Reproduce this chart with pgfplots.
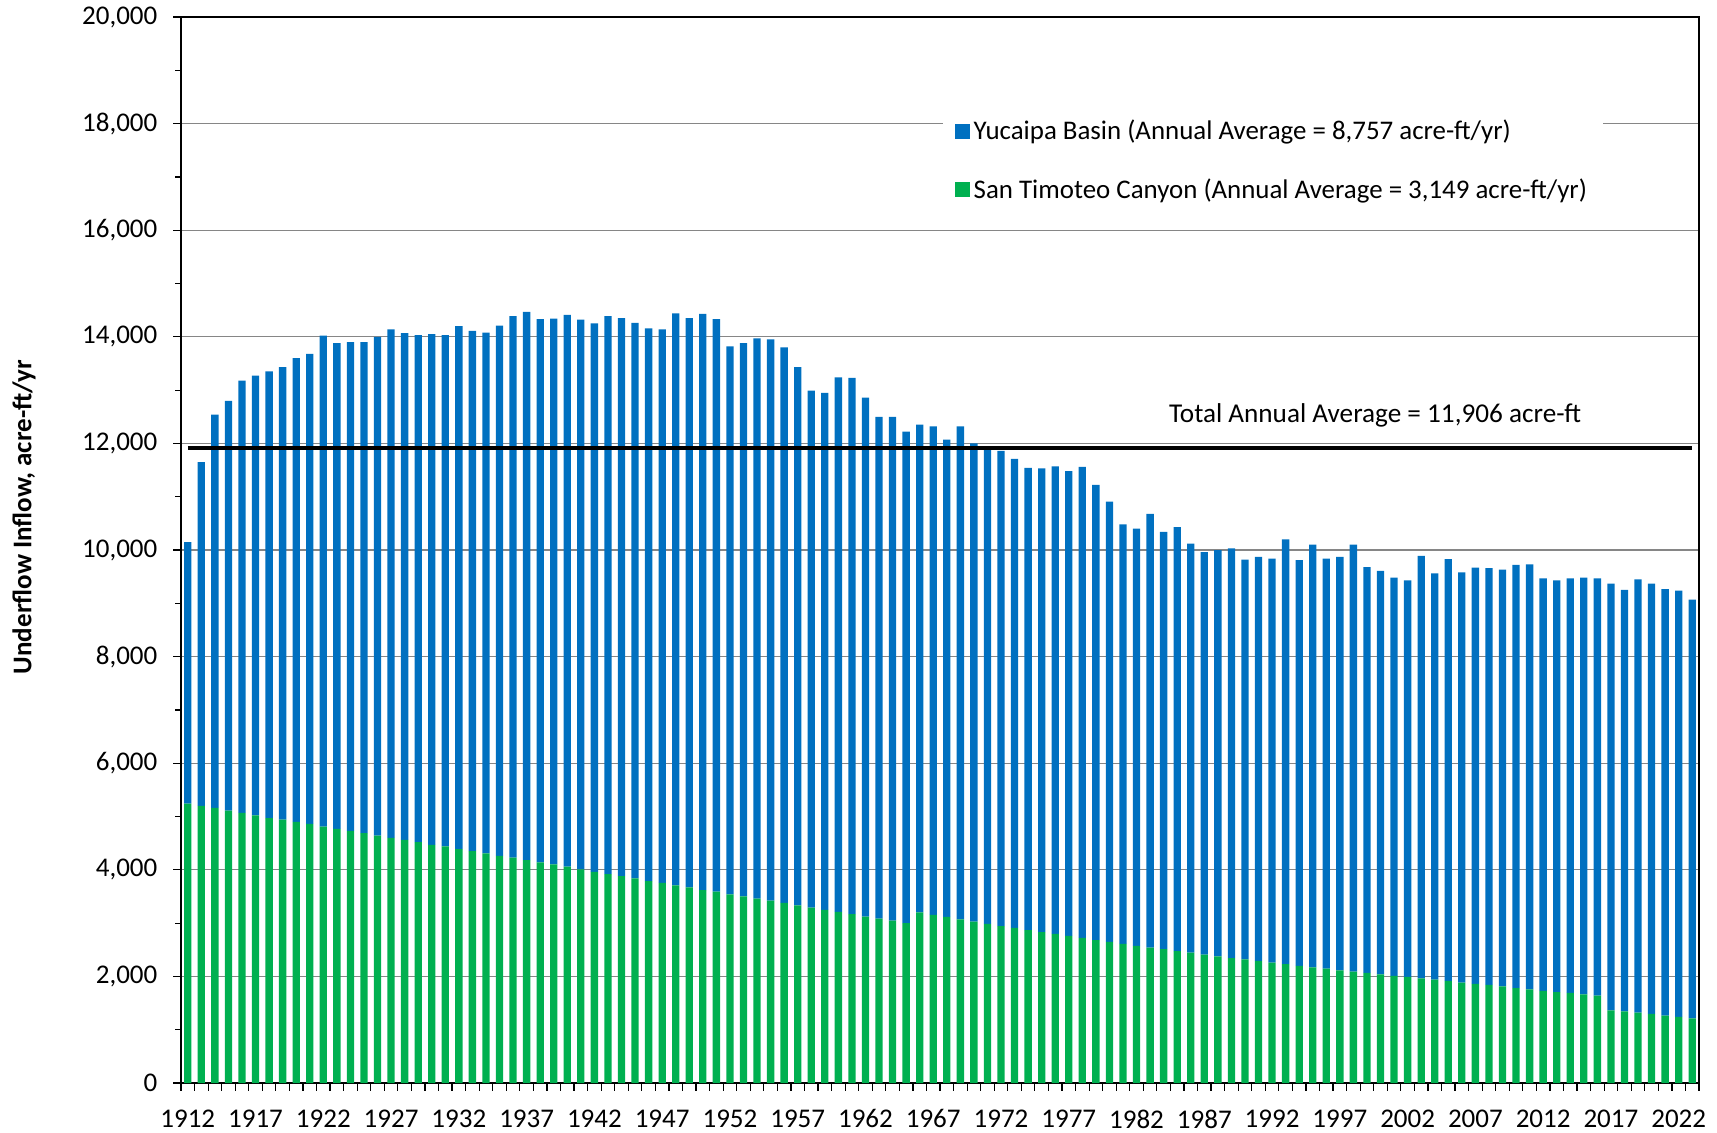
\documentclass[border=0pt]{standalone}
\usepackage{fontspec}
\setmainfont{Carlito}
\usepackage{pgfplots}
\usepackage{pgfplotstable}
\pgfplotsset{compat=1.18}
\definecolor{cblue}{HTML}{0070C0}
\definecolor{cgreen}{HTML}{00B050}
\definecolor{cgrid}{HTML}{868686}
\pgfplotstableread{
year green yucaipa
1912 5240 4910
1913 5200 6450
1914 5160 7380
1915 5110 7690
1916 5070 8110
1917 5020 8250
1918 4970 8380
1919 4940 8490
1920 4900 8700
1921 4860 8820
1922 4810 9210
1923 4770 9110
1924 4730 9170
1925 4690 9210
1926 4640 9360
1927 4600 9540
1928 4560 9510
1929 4520 9510
1930 4470 9580
1931 4440 9590
1932 4390 9810
1933 4350 9760
1934 4310 9770
1935 4260 9950
1936 4230 10160
1937 4180 10290
1938 4140 10190
1939 4100 10240
1940 4060 10350
1941 4010 10310
1942 3960 10290
1943 3920 10470
1944 3880 10470
1945 3840 10420
1946 3790 10370
1947 3755 10385
1948 3710 10730
1949 3670 10680
1950 3620 10810
1951 3590 10740
1952 3540 10280
1953 3500 10380
1954 3460 10510
1955 3420 10530
1956 3380 10420
1957 3335 10095
1958 3290 9700
1959 3250 9700
1960 3210 10030
1961 3170 10060
1962 3120 9740
1963 3085 9415
1964 3045 9455
1965 3000 9220
1966 3200 9150
1967 3155 9165
1968 3115 8955
1969 3070 9250
1970 3030 8970
1971 2985 8915
1972 2945 8915
1973 2910 8800
1974 2870 8670
1975 2830 8700
1976 2800 8770
1977 2760 8720
1978 2725 8835
1979 2680 8540
1980 2650 8260
1981 2610 7870
1982 2575 7825
1983 2540 8140
1984 2510 7830
1985 2475 7955
1986 2445 7675
1987 2410 7550
1988 2375 7625
1989 2345 7685
1990 2320 7500
1991 2290 7580
1992 2260 7580
1993 2230 7970
1994 2200 7610
1995 2170 7930
1996 2145 7695
1997 2115 7755
1998 2090 8010
1999 2065 7615
2000 2040 7570
2001 2010 7470
2002 1990 7440
2003 1965 7925
2004 1940 7620
2005 1915 7915
2006 1885 7695
2007 1860 7810
2008 1840 7820
2009 1815 7815
2010 1780 7940
2011 1755 7975
2012 1730 7740
2013 1705 7725
2014 1690 7780
2015 1665 7815
2016 1640 7830
2017 1365 8005
2018 1345 7905
2019 1320 8130
2020 1295 8075
2021 1265 8000
2022 1240 8000
2023 1215 7855
}\data
\begin{document}
\begin{tikzpicture}
\path[use as bounding box] (0,0) rectangle (858.5pt,566pt);
\begin{axis}[
  at={(90.5pt,24.5pt)}, anchor=south west,
  scale only axis, width=759pt, height=533pt,
  font=\fontsize{13.5}{15.5}\selectfont,
  /pgf/number format/assume math mode=true,
  ybar stacked, bar width=0.54,
  xmin=1911.5, xmax=2023.5,
  ymin=0, ymax=20000,
  ytick={0,2000,...,20000},
  minor y tick num=1,
  yticklabel style={/pgf/number format/1000 sep={,}, xshift=-4.5pt},
  scaled y ticks=false,
  xtick={1911.5,1912.5,...,2023.5},
  xticklabels={},
  extra x ticks={1912,1917,...,2022},
  extra x tick style={major tick length=0pt, xticklabel style={/pgf/number format/1000 sep={}, yshift=-9.8pt}},
  xtick pos=bottom, ytick pos=left,
  tick align=outside,
  major tick length=3.8pt, minor tick length=3pt,
  tick style={black, line width=0.6pt},
  ymajorgrids, xmajorgrids=false,
  grid style={cgrid, line width=0.6pt},
  axis line style={black, line width=0.8pt},
  ylabel={\bfseries Underflow Inflow, acre-ft/yr},
  ylabel style={at={(axis description cs:-0.1034,0.531)}, anchor=center},
  legend image code/.code={\fill[#1] (0pt,-3.75pt) rectangle (7.5pt,3.75pt);},
  legend style={draw=none, fill=white, at={(0.5015,0.919)}, anchor=north west,
    row sep=14pt, inner sep=6pt, cells={anchor=west}, font=\fontsize{13.45}{15.5}\selectfont},
  reverse legend,
]
\addplot[fill=cgreen, draw=none] table[x=year,y=green]{\data};
\addlegendentry{San Timoteo Canyon (Annual Average = 3,149 acre-ft/yr)}
\addplot[fill=cblue, draw=none] table[x=year,y=yucaipa]{\data};
\addlegendentry{Yucaipa Basin (Annual Average = 8,757 acre-ft/yr)}
\end{axis}
\begin{axis}[
  at={(90.5pt,24.5pt)}, anchor=south west,
  scale only axis, width=759pt, height=533pt,
  xmin=1911.5, xmax=2023.5, ymin=0, ymax=20000,
  axis lines=none, font=\fontsize{13.6}{15.5}\selectfont,
]
\addplot[black, line width=2pt, forget plot] coordinates {(1912,11906) (2023,11906)};
\node[anchor=center] at (axis cs:1999.6,12520) {Total Annual Average = 11,906 acre-ft};
\end{axis}
\end{tikzpicture}
\end{document}
